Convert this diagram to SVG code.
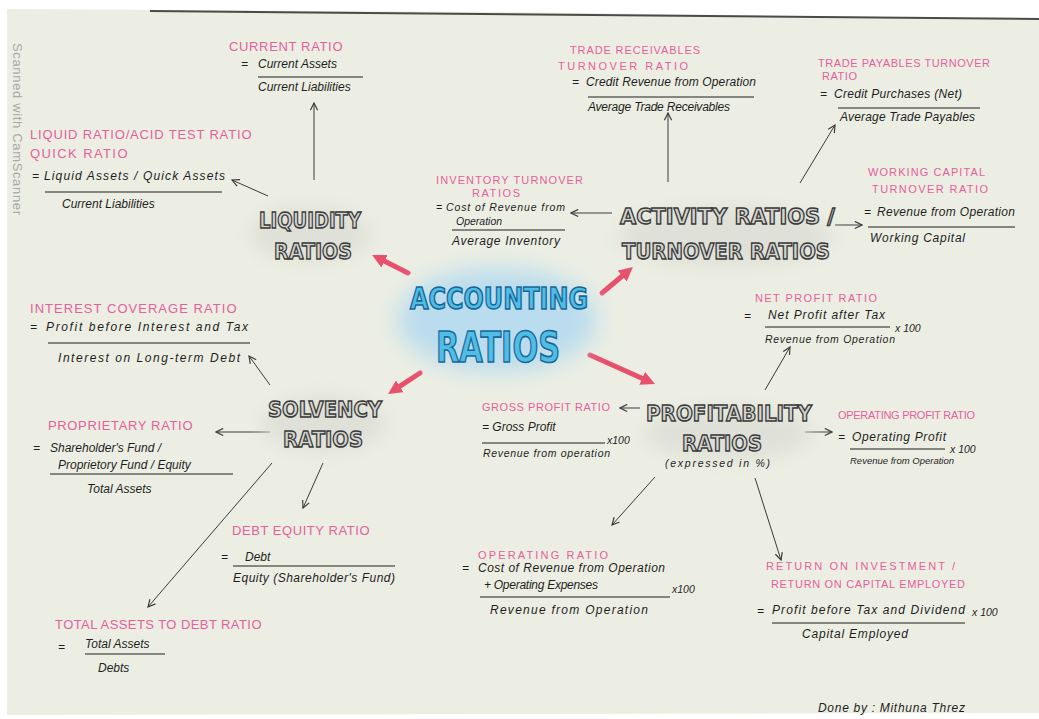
<svg xmlns="http://www.w3.org/2000/svg" width="1039" height="719" viewBox="0 0 1039 719">
<defs>
<style>
.h{font-family:"Liberation Sans",Arial,sans-serif;font-size:13px;fill:#e4609c;letter-spacing:0.5px}
.h2{font-size:11px;letter-spacing:0}
.t{font-family:"Liberation Sans",Arial,sans-serif;font-size:12px;fill:#1e1e1e;font-style:italic}
.s{font-size:10.5px}
.xs{font-size:9.5px}
.cat{font-family:"DejaVu Sans",sans-serif;font-weight:bold;font-size:22px;fill:#d3d4ce;stroke:#3a3a3a;stroke-width:1.4}
.main{font-family:"DejaVu Sans",sans-serif;font-weight:bold;fill:#4fbde4;stroke:#16679a;stroke-width:1.6}
.fl{stroke:#1e1e1e;stroke-width:1.2}
.ar{stroke:#3a3a3a;stroke-width:1;fill:none;marker-end:url(#ah)}
.rar{stroke:#e8506c;stroke-width:5;fill:none;stroke-linecap:round;marker-end:url(#rh)}
.wm{font-family:"Liberation Sans",Arial,sans-serif;font-size:13px;fill:#a8aaa4}
.halo{fill:#dfe1d8;filter:url(#blur)}
</style>
<filter id="blur" x="-50%" y="-50%" width="200%" height="200%"><feGaussianBlur stdDeviation="9"/></filter>
<filter id="glow" x="-50%" y="-50%" width="200%" height="200%"><feGaussianBlur stdDeviation="12"/></filter>
<marker id="ah" viewBox="0 0 10 10" refX="9" refY="5" markerWidth="9" markerHeight="9" orient="auto" markerUnits="userSpaceOnUse"><path d="M1,1 L9,5 L1,9" fill="none" stroke="#3a3a3a" stroke-width="1.3"/></marker>
<marker id="rh" viewBox="0 0 10 10" refX="5" refY="5" markerWidth="14" markerHeight="14" orient="auto" markerUnits="userSpaceOnUse"><path d="M0,0 L10,5 L0,10 z" fill="#e8506c"/></marker>
</defs>

<rect width="1039" height="719" fill="#ffffff"/>
<polygon points="7,9 500,12 1039,19 1039,713 7,715" fill="#eceee3"/>
<path d="M150,11 C400,12 700,14 1039,19" stroke="#4a4a48" stroke-width="2" fill="none"/>
<text class="wm" transform="translate(13,43) rotate(90)" textLength="172">Scanned with CamScanner</text>

<g id="connectors">
<path class="ar" d="M314,180 L314,103"/>
<path class="ar" d="M268,196 L232,180"/>
<path class="ar" d="M270,385 L249,356"/>
<path class="ar" d="M270,432 L216,432"/>
<path class="ar" d="M323,463 L303,508"/>
<path class="ar" d="M272,463 L148,607"/>
<path class="ar" d="M668,182 L668,113"/>
<path class="ar" d="M800,183 L835,125"/>
<path class="ar" d="M612,213 L571,213"/>
<path class="ar" d="M835,225 L862,225"/>
<path class="ar" d="M765,390 L790,347"/>
<path class="ar" d="M640,408 L620,408"/>
<path class="ar" d="M805,432 L832,432"/>
<path class="ar" d="M655,477 L612,525"/>
<path class="ar" d="M755,478 L781,560"/>
<path class="rar" d="M408,273 L378.3,258.1"/>
<path class="rar" d="M602,293 L627.6,271.5"/>
<path class="rar" d="M420,373 L393.9,390.2"/>
<path class="rar" d="M590,355 L648.6,381.2"/>
</g>

<g id="accounting-ratios">
<ellipse cx="497" cy="320" rx="100" ry="52" fill="#b9dcee" filter="url(#glow)"/>
<text class="main" x="410" y="309" font-size="30" textLength="178" lengthAdjust="spacingAndGlyphs">ACCOUNTING</text>
<text class="main" x="436" y="362" font-size="42" textLength="124" lengthAdjust="spacingAndGlyphs">RATIOS</text>
</g>

<g id="liquidity-ratios">
<ellipse class="halo" cx="310" cy="234" rx="60" ry="28"/>
<text class="cat" x="259" y="228" textLength="102" lengthAdjust="spacingAndGlyphs">LIQUIDITY</text>
<text class="cat" x="274" y="259" textLength="78" lengthAdjust="spacingAndGlyphs">RATIOS</text>
</g>

<g id="current-ratio">
<text class="h" x="229" y="51" textLength="114">CURRENT RATIO</text>
<text class="t" x="241" y="68">=</text>
<text class="t" x="258" y="68">Current Assets</text>
<line class="fl" x1="258" y1="77" x2="363" y2="77"/>
<text class="t" x="258" y="91">Current Liabilities</text>
</g>

<g id="liquid-ratio">
<text class="h" x="30" y="139" textLength="222">LIQUID RATIO/ACID TEST RATIO</text>
<text class="h" x="30" y="158" textLength="98">QUICK RATIO</text>
<text class="t" x="32" y="180">=</text>
<text class="t" x="44" y="180" textLength="181">Liquid Assets / Quick Assets</text>
<line class="fl" x1="45" y1="192" x2="222" y2="192"/>
<text class="t" x="62" y="208">Current Liabilities</text>
</g>

<g id="solvency-ratios">
<ellipse class="halo" cx="324" cy="424" rx="62" ry="28"/>
<text class="cat" x="268" y="417" textLength="114" lengthAdjust="spacingAndGlyphs">SOLVENCY</text>
<text class="cat" x="283" y="447" textLength="80" lengthAdjust="spacingAndGlyphs">RATIOS</text>
</g>

<g id="interest-coverage-ratio">
<text class="h" x="30" y="313" textLength="207">INTEREST COVERAGE RATIO</text>
<text class="t" x="30" y="331">=</text>
<text class="t" x="46" y="331" textLength="202">Profit before Interest and Tax</text>
<line class="fl" x1="48" y1="343" x2="250" y2="343"/>
<text class="t" x="58" y="362" font-size="13" textLength="182">Interest on Long-term Debt</text>
</g>

<g id="proprietary-ratio">
<text class="h" x="48" y="430" textLength="145">PROPRIETARY RATIO</text>
<text class="t" x="33" y="452">=</text>
<text class="t" x="50" y="452">Shareholder's Fund /</text>
<text class="t" x="58" y="469">Proprietory Fund / Equity</text>
<line class="fl" x1="50" y1="474" x2="233" y2="474"/>
<text class="t" x="87" y="493">Total Assets</text>
</g>

<g id="debt-equity-ratio">
<text class="h" x="232" y="535" textLength="138">DEBT EQUITY RATIO</text>
<text class="t" x="221" y="561">=</text>
<text class="t" x="245" y="561" font-size="14">Debt</text>
<line class="fl" x1="233" y1="566" x2="395" y2="566"/>
<text class="t" x="233" y="582" textLength="162">Equity (Shareholder's Fund)</text>
</g>

<g id="total-assets-to-debt-ratio">
<text class="h" x="55" y="629" textLength="207">TOTAL ASSETS TO DEBT RATIO</text>
<text class="t" x="58" y="651">=</text>
<text class="t" x="85" y="648">Total Assets</text>
<line class="fl" x1="85" y1="654" x2="165" y2="654"/>
<text class="t" x="98" y="672">Debts</text>
</g>

<g id="activity-ratios">
<ellipse class="halo" cx="725" cy="237" rx="108" ry="30"/>
<text class="cat" x="620" y="224" textLength="215" lengthAdjust="spacingAndGlyphs">ACTIVITY RATIOS /</text>
<text class="cat" x="622" y="259" textLength="208" lengthAdjust="spacingAndGlyphs">TURNOVER RATIOS</text>
</g>

<g id="trade-receivables-turnover-ratio">
<text class="h h2" x="570" y="54" textLength="130">TRADE RECEIVABLES</text>
<text class="h h2" x="558" y="70" textLength="130">TURNOVER RATIO</text>
<text class="t" x="572" y="86">=</text>
<text class="t" x="586" y="86" textLength="170">Credit Revenue from Operation</text>
<line class="fl" x1="588" y1="97" x2="754" y2="97"/>
<text class="t" x="588" y="111" textLength="142">Average Trade Receivables</text>
</g>

<g id="trade-payables-turnover-ratio">
<text class="h h2" x="818" y="67" textLength="172">TRADE PAYABLES TURNOVER</text>
<text class="h h2" x="822" y="80" textLength="35">RATIO</text>
<text class="t" x="820" y="98">=</text>
<text class="t" x="834" y="98" textLength="128">Credit Purchases (Net)</text>
<line class="fl" x1="838" y1="108" x2="980" y2="108"/>
<text class="t" x="840" y="121" textLength="135">Average Trade Payables</text>
</g>

<g id="inventory-turnover-ratios">
<text class="h h2" x="436" y="184" textLength="147">INVENTORY TURNOVER</text>
<text class="h h2" x="472" y="197" textLength="48">RATIOS</text>
<text class="t s" x="436" y="211">=</text>
<text class="t s" x="446" y="211" textLength="119">Cost of Revenue from</text>
<text class="t s" x="456" y="225">Operation</text>
<line class="fl" x1="452" y1="230" x2="565" y2="230"/>
<text class="t" x="452" y="245" textLength="108">Average Inventory</text>
</g>

<g id="working-capital-turnover-ratio">
<text class="h h2" x="868" y="176" textLength="117">WORKING CAPITAL</text>
<text class="h h2" x="872" y="193" textLength="116">TURNOVER RATIO</text>
<text class="t" x="864" y="216">=</text>
<text class="t" x="877" y="216" textLength="138">Revenue from Operation</text>
<line class="fl" x1="868" y1="227" x2="1015" y2="227"/>
<text class="t" x="870" y="242" textLength="95">Working Capital</text>
</g>

<g id="profitability-ratios">
<ellipse class="halo" cx="728" cy="434" rx="84" ry="26"/>
<text class="cat" x="646" y="421" textLength="166" lengthAdjust="spacingAndGlyphs">PROFITABILITY</text>
<text class="cat" x="682" y="451" textLength="80" lengthAdjust="spacingAndGlyphs">RATIOS</text>
<text class="t s" x="665" y="467" textLength="105">(expressed in %)</text>
</g>

<g id="net-profit-ratio">
<text class="h h2" x="755" y="302" textLength="122">NET PROFIT RATIO</text>
<text class="t" x="744" y="320">=</text>
<text class="t" x="768" y="319" textLength="117">Net Profit after Tax</text>
<line class="fl" x1="765" y1="327" x2="890" y2="327"/>
<text class="t s" x="895" y="332">x 100</text>
<text class="t s" x="765" y="343" textLength="130">Revenue from Operation</text>
</g>

<g id="gross-profit-ratio">
<text class="h h2" x="482" y="411" textLength="128">GROSS PROFIT RATIO</text>
<text class="t" x="482" y="431">= Gross Profit</text>
<line class="fl" x1="482" y1="443" x2="605" y2="443"/>
<text class="t s" x="607" y="444">x100</text>
<text class="t s" x="483" y="457" textLength="127">Revenue from operation</text>
</g>

<g id="operating-profit-ratio">
<text class="h h2" x="838" y="419" textLength="137">OPERATING PROFIT RATIO</text>
<text class="t" x="838" y="441">=</text>
<text class="t" x="852" y="441" textLength="94">Operating Profit</text>
<line class="fl" x1="850" y1="449" x2="945" y2="449"/>
<text class="t s" x="950" y="453">x 100</text>
<text class="t xs" x="850" y="464">Revenue from Operation</text>
</g>

<g id="operating-ratio">
<text class="h h2" x="478" y="559" textLength="130">OPERATING RATIO</text>
<text class="t" x="462" y="572">=</text>
<text class="t" x="478" y="572" textLength="187">Cost of Revenue from Operation</text>
<text class="t" x="484" y="589" textLength="114">+ Operating Expenses</text>
<line class="fl" x1="480" y1="597" x2="670" y2="597"/>
<text class="t s" x="672" y="593">x100</text>
<text class="t" x="490" y="614" textLength="158">Revenue from Operation</text>
</g>

<g id="return-on-investment">
<text class="h h2" x="766" y="570" textLength="189">RETURN ON INVESTMENT /</text>
<text class="h h2" x="771" y="588" textLength="194">RETURN ON CAPITAL EMPLOYED</text>
<text class="t" x="757" y="615">=</text>
<text class="t" x="772" y="614" textLength="193">Profit before Tax and Dividend</text>
<line class="fl" x1="772" y1="623" x2="965" y2="623"/>
<text class="t s" x="972" y="616">x 100</text>
<text class="t" x="802" y="638" textLength="106">Capital Employed</text>
</g>

<g id="credit">
<text class="t" x="818" y="712" textLength="147">Done by : Mithuna Threz</text>
</g>
</svg>
